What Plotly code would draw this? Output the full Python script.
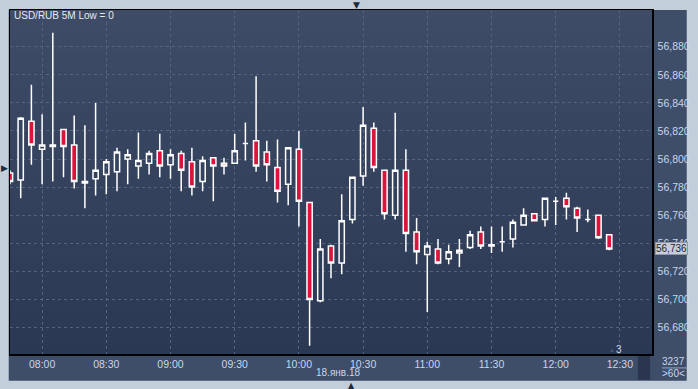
import plotly.graph_objects as go
import pandas as pd

# 5-minute candles, 18 Jan 2018, 07:45 .. 12:25
times = pd.date_range("2018-01-18 07:45", periods=57, freq="5min")
opens = [56.790, 56.785, 56.827, 56.807, 56.809, 56.821, 56.810, 56.783, 56.786, 56.789,
         56.791, 56.800, 56.795, 56.797, 56.806, 56.796, 56.804, 56.798, 56.784, 56.801,
         56.797, 56.797, 56.811, 56.813, 56.805, 56.794, 56.782, 56.807, 56.769, 56.699,
         56.738, 56.726, 56.757, 56.788, 56.822, 56.792, 56.760, 56.792, 56.748, 56.732,
         56.736, 56.729, 56.733, 56.737, 56.748, 56.738, 56.741, 56.743, 56.753, 56.761,
         56.757, 56.770, 56.772, 56.765, 56.757, 56.760, 56.746]
highs = [56.792, 56.830, 56.853, 56.832, 56.890, 56.821, 56.831, 56.824, 56.840, 56.800,
         56.808, 56.807, 56.819, 56.806, 56.818, 56.807, 56.806, 56.808, 56.802, 56.801,
         56.801, 56.818, 56.826, 56.859, 56.813, 56.814, 56.808, 56.820, 56.769, 56.743,
         56.739, 56.775, 56.787, 56.837, 56.826, 56.792, 56.833, 56.807, 56.758, 56.741,
         56.743, 56.739, 56.743, 56.749, 56.752, 56.752, 56.752, 56.757, 56.765, 56.761,
         56.772, 56.773, 56.776, 56.766, 56.764, 56.760, 56.746]
lows = [56.782, 56.772, 56.796, 56.782, 56.784, 56.787, 56.779, 56.765, 56.774, 56.775,
        56.777, 56.782, 56.786, 56.789, 56.787, 56.786, 56.777, 56.774, 56.777, 56.770,
        56.789, 56.797, 56.799, 56.791, 56.784, 56.769, 56.767, 56.752, 56.667, 56.698,
        56.715, 56.718, 56.754, 56.781, 56.791, 56.757, 56.757, 56.734, 56.725, 56.691,
        56.725, 56.725, 56.723, 56.736, 56.736, 56.733, 56.734, 56.737, 56.753, 56.756,
        56.752, 56.753, 56.757, 56.748, 56.755, 56.743, 56.735]
closes = [56.784, 56.829, 56.810, 56.810, 56.810, 56.809, 56.784, 56.784, 56.792, 56.798,
          56.805, 56.803, 56.799, 56.804, 56.795, 56.803, 56.792, 56.780, 56.799, 56.795,
          56.795, 56.806, 56.811, 56.795, 56.796, 56.777, 56.808, 56.770, 56.700, 56.736,
          56.726, 56.756, 56.787, 56.824, 56.794, 56.761, 56.792, 56.747, 56.734, 56.738,
          56.726, 56.734, 56.735, 56.746, 56.738, 56.739, 56.741, 56.755, 56.760, 56.756,
          56.772, 56.770, 56.766, 56.758, 56.757, 56.744, 56.736]

y_ticks = [56.680, 56.700, 56.720, 56.740, 56.760, 56.780, 56.800, 56.820, 56.840, 56.860, 56.880]
x_ticks = ["2018-01-18 08:00", "2018-01-18 08:30", "2018-01-18 09:00", "2018-01-18 09:30",
           "2018-01-18 10:00", "2018-01-18 10:30", "2018-01-18 11:00", "2018-01-18 11:30",
           "2018-01-18 12:00", "2018-01-18 12:30"]
last_price = 56.736

FONT = "Liberation Sans"
TICK_COL = "#c8d6ec"

fig = go.Figure(go.Candlestick(
    x=times, open=opens, high=highs, low=lows, close=closes,
    increasing=dict(line=dict(color="white", width=1.5), fillcolor="rgba(0,0,0,0)"),
    decreasing=dict(line=dict(color="white", width=1.5), fillcolor="#dc143c"),
    whiskerwidth=0, hoverinfo="skip", showlegend=False,
))

shapes = []
# dark panel behind plot + axes
shapes.append(dict(type="rect", xref="paper", yref="paper", x0=-0.002, x1=1.0541, y0=-0.078, y1=1.0,
                   fillcolor="#3e4d68", line=dict(width=0), layer="below"))
# gradient plot background
N = 40
top = (62, 76, 103)
bot = (43, 56, 84)
for i in range(N):
    t = (i + 0.5) / N
    c = tuple(round(top[j] + (bot[j] - top[j]) * t) for j in range(3))
    shapes.append(dict(type="rect", xref="paper", yref="paper", x0=0, x1=1,
                       y0=1 - (i + 1) / N, y1=1 - i / N + 0.001,
                       fillcolor="rgb(%d,%d,%d)" % c, line=dict(width=0), layer="below"))
# dark small rect bottom right of x-axis panel
shapes.append(dict(type="rect", xref="paper", yref="paper", x0=0.978, x1=0.997, y0=-0.0751, y1=-0.006,
                   fillcolor="#2a3650", line=dict(width=0), layer="above"))
# separator in bottom-right panel
shapes.append(dict(type="line", xref="paper", yref="paper", x0=1.0155, x1=1.0541, y0=-0.0405, y1=-0.0405,
                   line=dict(color="#9aa6b8", width=1), layer="above"))

annotations = [
    dict(text="USD/RUB 5M Low = 0", xref="paper", yref="paper", x=0.003, y=0.983,
         xanchor="left", yanchor="middle", showarrow=False,
         font=dict(family=FONT, size=10, color="#e4eaf2")),
    dict(text="18.янв.18", xref="paper", yref="paper", x=0.511, y=-0.055,
         xanchor="center", yanchor="middle", showarrow=False,
         font=dict(family=FONT, size=10, color=TICK_COL)),
    dict(text="3237", xref="paper", yref="paper", x=1.034, y=-0.0231,
         xanchor="center", yanchor="middle", showarrow=False,
         font=dict(family=FONT, size=10, color=TICK_COL)),
    dict(text="&gt;60&lt;", xref="paper", yref="paper", x=1.034, y=-0.0578,
         xanchor="center", yanchor="middle", showarrow=False,
         font=dict(family=FONT, size=10, color=TICK_COL)),
    dict(text="3", xref="paper", yref="paper", x=0.949, y=0.0145,
         xanchor="center", yanchor="middle", showarrow=False,
         font=dict(family=FONT, size=10, color="#d0d8e6")),
    dict(text="▲", xref="paper", yref="paper", x=0.938, y=0.012,
         xanchor="center", yanchor="middle", showarrow=False,
         font=dict(family=FONT, size=6, color="#4a586f")),
    dict(text="▼", xref="paper", yref="paper", x=0.5395, y=1.0135,
         xanchor="center", yanchor="middle", showarrow=False,
         font=dict(family="DejaVu Sans", size=9, color="#1e2a3c")),
    dict(text="▲", xref="paper", yref="paper", x=0.5325, y=-0.0915,
         xanchor="center", yanchor="middle", showarrow=False,
         font=dict(family="DejaVu Sans", size=8, color="#1e2a3c")),
    dict(text="▶", xref="paper", yref="paper", x=-0.0085, y=0.540,
         xanchor="center", yanchor="middle", showarrow=False,
         font=dict(family="DejaVu Sans", size=9, color="#1e2a3c")),
    dict(text="56,736", xref="paper", yref="y", x=1.004, y=last_price,
         xanchor="left", yanchor="middle", showarrow=False,
         bgcolor="#c9ced6", bordercolor="#8f98a6", borderwidth=1, borderpad=0,
         font=dict(family=FONT, size=10, color="#1c2434")),
]

fig.update_layout(
    width=698, height=389,
    margin=dict(l=8, r=43, t=8, b=35, pad=0),
    paper_bgcolor="#c3cedb",
    plot_bgcolor="rgba(0,0,0,0)",
    separators=", ",
    shapes=shapes,
    annotations=annotations,
    showlegend=False,
    xaxis=dict(
        type="date",
        range=["2018-01-18 07:45", "2018-01-18 12:45"],
        tickvals=x_ticks, tickformat="%H:%M",
        showgrid=True, gridcolor="#55647e", griddash="dot", gridwidth=1,
        showline=True, linecolor="black", linewidth=1.5, mirror=True,
        ticks="", zeroline=False,
        tickfont=dict(family=FONT, size=10.5, color=TICK_COL),
        rangeslider=dict(visible=False), fixedrange=True,
    ),
    yaxis=dict(
        side="right",
        range=[56.6611, 56.9062],
        tickvals=y_ticks, tickformat=".3f",
        showgrid=True, gridcolor="#55647e", griddash="dot", gridwidth=1,
        showline=True, linecolor="black", linewidth=1.5, mirror=True,
        ticks="", zeroline=False, ticklabelstandoff=2,
        tickfont=dict(family=FONT, size=10.5, color=TICK_COL),
        fixedrange=True,
    ),
)

fig.write_html("out.html", config={"displayModeBar": False, "staticPlot": True},
               post_script="document.body.style.margin='0px';document.body.style.background='#c3cedb';")
